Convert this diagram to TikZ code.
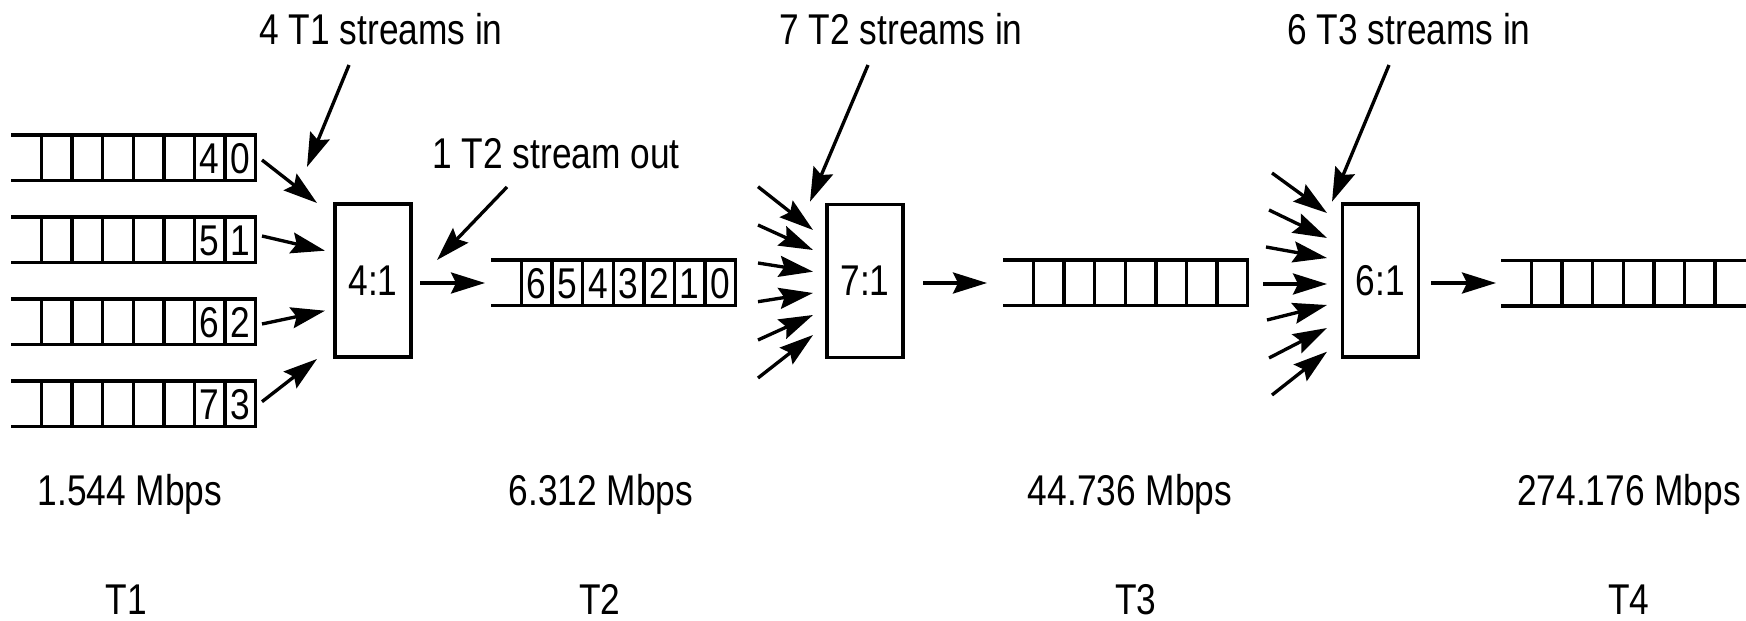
\documentclass[tikz,border=0pt]{standalone}
\usepackage{fontspec}
\setmainfont{Liberation Sans}[FakeStretch=0.82]
\usetikzlibrary{arrows.meta}
\tikzset{
  qline/.style={line width=1.9pt, line cap=rect},
  mux/.style={draw, line width=1.9pt, minimum width=1.52cm, minimum height=3.06cm, inner sep=0pt},
  lbl/.style={anchor=base, inner sep=0pt},
  num/.style={inner sep=0pt},
  arr/.style={line width=1.9pt, -{Stealth[length=0.68cm,width=0.42cm,inset=0.1cm]}},
}
% #1 name, #2 left x, #3 top y, #4 index of last divider
\newcommand\TQueue[4]{%
  \draw[qline] (#2,#3) -- (#2+242.7,#3) (#2,#3+45.5) -- (#2+242.7,#3+45.5);
  \foreach \k in {0,...,#4}{\draw[qline] (#2+28.5+\k*30.6,#3) -- (#2+28.5+\k*30.6,#3+45.5);}
  \coordinate (#1-in) at (#2,#3+22.75);
  \coordinate (#1-out) at (#2+242.7,#3+22.75);
}
\begin{document}
\begin{tikzpicture}[x=0.02cm,y=-0.02cm,font=\fontsize{24.5pt}{28pt}\selectfont]
\useasboundingbox (0,0) rectangle (1746,621);

% T1 queues
\foreach \r in {0,...,3}{
  \TQueue{qa\r}{13}{135+82*\r}{7}
  \pgfmathtruncatemacro\hi{\r+4}
  \node[num] (qa\r-a) at (209.8,158.5+82*\r) {\hi};
  \node[num] (qa\r-b) at (240.4,158.5+82*\r) {\r};
}
% T2 queue
\TQueue{qb}{493}{260}{7}
\foreach \k in {0,...,6}{
  \pgfmathtruncatemacro\v{6-\k}
  \node[num] (qb-\k) at (493+28.5+\k*30.6+15.3,283.5) {\v};
}
% T3 and T4 queues
\TQueue{qc}{1005}{260}{7}
\TQueue{qd}{1503}{260.5}{6}

% multiplexers
\node[mux] (m1) at (373,280.5) {4:1};
\node[mux] (m2) at (865,281) {7:1};
\node[mux] (m3) at (1380.5,280.5) {6:1};

% arrows into 4:1
\foreach \sy/\ty/\tx [count=\i] in {160/203/317, 236/250.7/325, 324/310.7/325, 401.7/359/317}{
  \coordinate (fa\i s) at (262,\sy);
  \coordinate (fa\i t) at (\tx,\ty);
  \draw[arr] (fa\i s) -- (fa\i t);
}
% arrows into 7:1
\foreach \sy/\ty [count=\i] in {186.7/230, 225/250, 263/271.7, 301.7/293, 340/315, 378/335}{
  \coordinate (fb\i s) at (758,\sy);
  \coordinate (fb\i t) at (813,\ty);
  \draw[arr] (fb\i s) -- (fb\i t);
}
% arrows into 6:1
\foreach \sx/\sy/\ty [count=\i] in {1272/173/213, 1269/210/238, 1266/247/258, 1263/284/284, 1267/320/305, 1269/358/328, 1272/395/351.7}{
  \coordinate (fc\i s) at (\sx,\sy);
  \coordinate (fc\i t) at (1327,\ty);
  \draw[arr] (fc\i s) -- (fc\i t);
}

% outputs
\coordinate (o1s) at (420,283);  \coordinate (o1e) at (485,283);
\coordinate (o2s) at (923,283);  \coordinate (o2e) at (987,283);
\coordinate (o3s) at (1431,283); \coordinate (o3e) at (1496,283);
\draw[arr] (o1s) -- (o1e);
\draw[arr] (o2s) -- (o2e);
\draw[arr] (o3s) -- (o3e);

% labels with pointer arrows
\node[lbl] (l1) at (381,45) {4 T1 streams in};
\node[lbl] (l2) at (556,169) {1 T2 stream out};
\node[lbl] (l3) at (901,45) {7 T2 streams in};
\node[lbl] (l4) at (1409,45) {6 T3 streams in};
\coordinate (p1s) at (349,65);   \coordinate (p1t) at (307,167);
\coordinate (p2s) at (507,187);  \coordinate (p2t) at (437,260);
\coordinate (p3s) at (868,65);   \coordinate (p3t) at (810,201.7);
\coordinate (p4s) at (1389,65);  \coordinate (p4t) at (1332,201.7);
\draw[arr] (p1s) -- (p1t);
\draw[arr] (p2s) -- (p2t);
\draw[arr] (p3s) -- (p3t);
\draw[arr] (p4s) -- (p4t);

% rates and names
\node[lbl] (r1) at (130,505) {1.544 Mbps};
\node[lbl] (r2) at (601,505) {6.312 Mbps};
\node[lbl] (r3) at (1130,505) {44.736 Mbps};
\node[lbl] (r4) at (1629,505) {274.176 Mbps};
\node[lbl] (t1) at (126.5,614) {T1};
\node[lbl] (t2) at (600,614) {T2};
\node[lbl] (t3) at (1136,614) {T3};
\node[lbl] (t4) at (1629,614) {T4};
\end{tikzpicture}
\end{document}
